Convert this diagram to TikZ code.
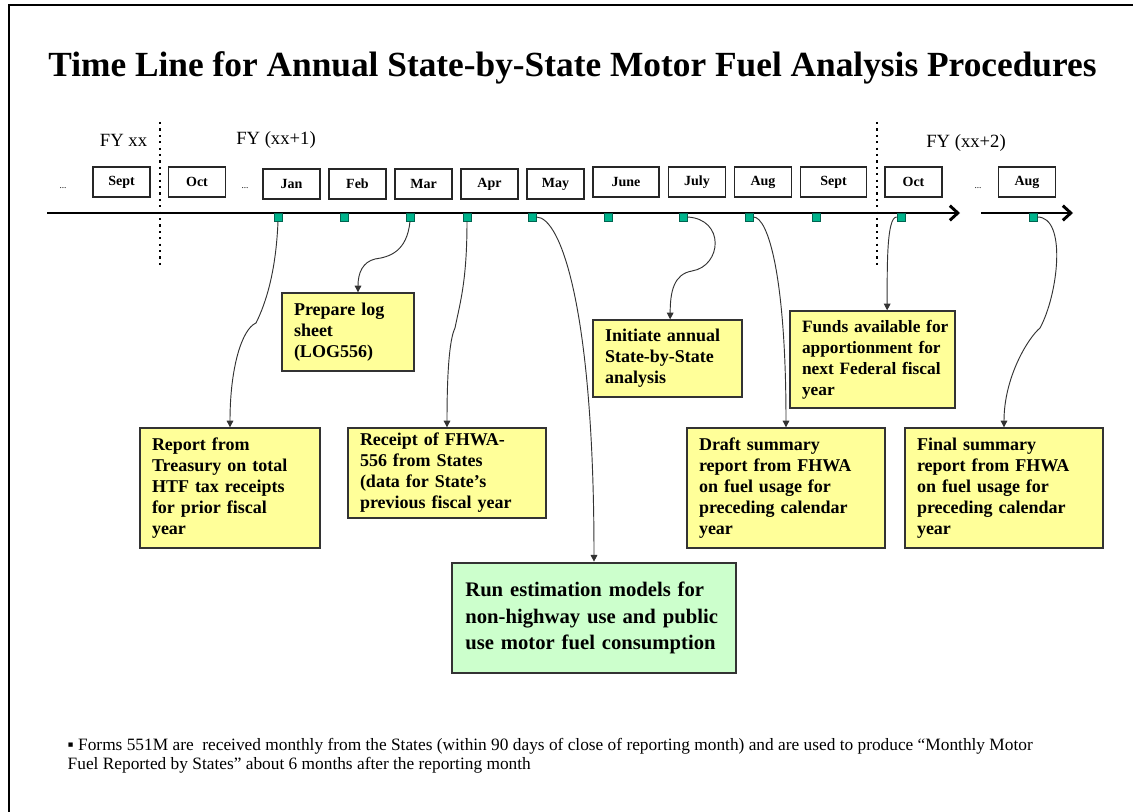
\documentclass[tikz,border=0pt]{standalone}
\usepackage{fontspec}
\setmainfont{Liberation Serif}
\usepackage{tikz}
\usetikzlibrary{calc}
\usetikzlibrary{arrows.meta}
\usetikzlibrary{positioning}
\definecolor{notepad}{RGB}{255, 255, 153}
\definecolor{mint}{RGB}{204, 255, 204}
\definecolor{tealmark}{RGB}{0, 180, 140}
\definecolor{tealedge}{RGB}{0, 100, 80}

\tikzset{
  monthbox/.style={draw=black!85, line width=0.9pt, fill=white, minimum width=42.75pt, minimum height=22.5pt, inner sep=0pt, font=\bfseries\fontsize{10.5}{12}\selectfont},
  monthmark/.style={draw=tealedge, fill=tealmark, line width=0.5pt, minimum size=6pt, inner sep=0pt},
  notebox/.style={draw=black!80, line width=1pt, fill=notepad, align=left, inner ysep=0pt, inner xsep=9pt, font=\bfseries\fontsize{13.5}{15.75}\selectfont},
  fylabel/.style={font=\fontsize{14}{16}\selectfont},
  gap/.style={font=\fontsize{7}{8}\selectfont},
  link/.style={draw=black!80, line width=0.7pt, -{Triangle[length=5pt,width=5pt]}},
  fyline/.style={line width=1.6pt, dash pattern=on 1.6pt off 3.2pt}
}

\begin{document}
\begin{tikzpicture}[x=0.75pt, y=-0.75pt]
            \useasboundingbox (0,0) rectangle (1133,812);
            \draw[line width=1.5pt] (9,812) -- (9,5) -- (1133,5);
            \node[font=\bfseries\fontsize{26.5}{30}\selectfont] (title) at (572.5,68) {Time Line for Annual State-by-State Motor Fuel Analysis Procedures};

            \draw[fyline] (160,122) -- (160,265);
            \draw[fyline] (877,122) -- (877,265);
            \node[fylabel] (fy0) at (123.5,140) {FY xx};
            \node[fylabel] (fy1) at (276,140) {FY (xx+1)};
            \node[fylabel] (fy2) at (966,143) {FY (xx+2)};

            \draw[line width=2.2pt, -{Straight Barb[length=6pt,width=11pt]}] (47,213) -- (960,213);
            \draw[line width=2.2pt, -{Straight Barb[length=6pt,width=11pt]}] (981,213) -- (1073,213);

            \node[gap] (gap0) at (63,188) {...};
            \node[gap] (gap1) at (245,188) {...};
            \node[gap] (gap2) at (978,188) {...};

            \node[monthbox] (sep0) at (121.5,182) {Sept};
            \node[monthbox] (oct0) at (197,182)   {Oct};
            \node[monthbox] (jan)  at (291.5,184) {Jan};
            \node[monthbox] (feb)  at (357.5,184) {Feb};
            \node[monthbox] (mar)  at (423.5,184) {Mar};
            \node[monthbox] (apr)  at (489.5,184) {Apr};
            \node[monthbox] (may)  at (555.5,184) {May};
            \node[monthbox, minimum width=49.5pt] (jun) at (626,182) {June};
            \node[monthbox] (jul)  at (697,182)   {July};
            \node[monthbox] (aug)  at (763,182)   {Aug};
            \node[monthbox, minimum width=49.5pt] (sep1) at (833.5,182) {Sept};
            \node[monthbox] (oct1) at (913.5,182) {Oct};
            \node[monthbox] (aug1) at (1027,182)  {Aug};

            \node[monthmark] (mjan)  at (278,217)  {};
            \node[monthmark] (mfeb)  at (344,217)  {};
            \node[monthmark] (mmar)  at (410,217)  {};
            \node[monthmark] (mapr)  at (467,217)  {};
            \node[monthmark] (mmay)  at (532,217)  {};
            \node[monthmark] (mjun)  at (608,217)  {};
            \node[monthmark] (mjul)  at (683,217)  {};
            \node[monthmark] (maug)  at (749,217)  {};
            \node[monthmark] (msep)  at (816,217)  {};
            \node[monthmark] (moct)  at (901,217)  {};
            \node[monthmark] (maug1) at (1033,217) {};

            \node[notebox, text width=117pt, minimum height=90pt] (report) at (230,488)
                 {Report from\\Treasury on total\\HTF tax receipts\\for prior fiscal\\year};
            \node[notebox, text width=81pt, minimum height=58.5pt] (prep) at (348,332)
                 {Prepare log\\sheet\\(LOG556)};
            \node[notebox, text width=130.5pt, minimum height=67.5pt] (receipt) at (447,473)
                 {Receipt of FHWA-\\556 from States\\(data for State’s\\previous fiscal year};
            \node[notebox, text width=93.75pt, minimum height=57.75pt] (init) at (667.5,358.5)
                 {Initiate annual\\State-by-State\\analysis};
            \node[notebox, text width=115.75pt, inner xsep=4pt, minimum height=72.75pt, font=\bfseries\fontsize{13}{15.75}\selectfont] (funds) at (872.5,359.5)
                 {\hspace*{5pt}Funds available for\\\hspace*{5pt}apportionment for\\\hspace*{5pt}next Federal fiscal\\\hspace*{5pt}year};
            \node[notebox, text width=130.5pt, minimum height=90pt] (draft) at (786,488)
                 {Draft summary\\report from FHWA\\on fuel usage for\\preceding calendar\\year};
            \node[notebox, text width=130.5pt, minimum height=90pt] (final) at (1004,488)
                 {Final summary\\report from FHWA\\on fuel usage for\\preceding calendar\\year};
            \node[notebox, fill=mint, line width=2pt, text width=199pt, inner xsep=7pt, minimum height=82.5pt, font=\bfseries\fontsize{15.5}{20}\selectfont] (run) at (594,618)
                 {\hspace*{3pt}Run estimation models for\\\hspace*{3pt}non-highway use and public\\\hspace*{3pt}use motor fuel consumption};

            \draw[link] (mjan.south) .. controls +(-2,50) and +(10,-20) .. (256,323) .. controls +(-14,6) and +(0,-60) .. (report.north);
            \draw[link] (mmar.south) .. controls +(-3,30) and +(15,-2) .. (375,259) .. controls +(-12,3) and +(0,-20) .. ([xshift=7.5pt]prep.north);
            \draw[link] (mapr.south) .. controls +(0,60) and +(5,-25) .. (455,328) .. controls +(-6,12) and +(0,-50) .. (receipt.north);
            \draw[link] (mmay.east) .. controls +(25,0) and +(0,-250) .. (run.north);
            \draw[link] (mjul.east) .. controls +(38,2) and +(30,-5) .. (692,271) .. controls +(-18,3) and +(0,-28) .. ([xshift=2pt]init.north);
            \draw[link] (maug.east) .. controls +(15,0) and +(0,-150) .. (draft.north);
            \draw[link] (moct.west) .. controls +(-10,0) and +(0,-45) .. ([xshift=11pt]funds.north);
            \draw[link] (maug1.east) .. controls +(30,0) and +(18,-33) .. (1040,328) .. controls +(-12,10) and +(0,-50) .. (final.north);

            \node[anchor=west, align=left, font=\fontsize{13}{14.25}\selectfont] (note) at (63,756)
                 {▪ Forms 551M are~ received monthly from the States (within 90 days of close of reporting month) and are used to produce “Monthly Motor\\Fuel Reported by States” about 6 months after the reporting month};
        \end{tikzpicture}
\end{document}
